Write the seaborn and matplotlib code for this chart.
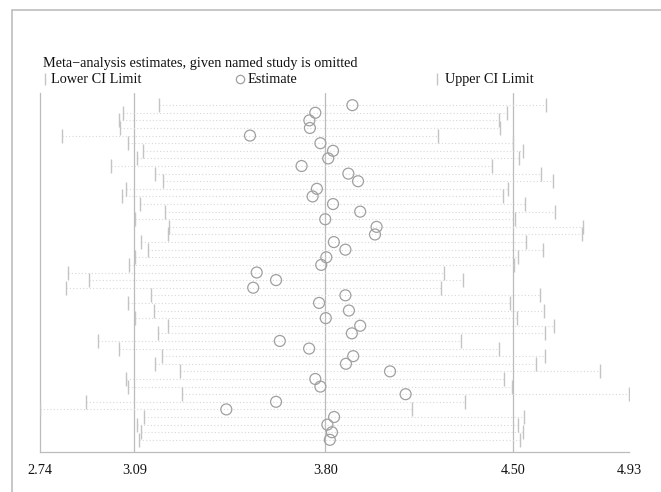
import numpy as np
import pandas as pd
import matplotlib
matplotlib.use("Agg")
import matplotlib.pyplot as plt
from matplotlib.lines import Line2D
from matplotlib.patches import Rectangle
import seaborn as sns

# Influence analysis: estimate and CI with each study omitted in turn
lower = [3.183, 3.049, 3.034, 3.035, 2.821, 3.067, 3.121, 3.101, 3.004, 3.168,
         3.196, 3.060, 3.045, 3.112, 3.205, 3.093, 3.220, 3.216, 3.114, 3.140,
         3.091, 3.069, 2.844, 2.922, 2.837, 3.153, 3.066, 3.164, 3.092, 3.214,
         3.179, 2.954, 3.034, 3.192, 3.168, 3.261, 3.059, 3.067, 3.268, 2.911,
         2.740, 3.125, 3.101, 3.116, 3.108]
estimate = [3.901, 3.763, 3.741, 3.743, 3.520, 3.782, 3.829, 3.811, 3.712, 3.886,
            3.922, 3.769, 3.753, 3.829, 3.930, 3.800, 3.991, 3.985, 3.832, 3.875,
            3.804, 3.785, 3.545, 3.617, 3.532, 3.875, 3.777, 3.888, 3.802, 3.930,
            3.899, 3.631, 3.740, 3.904, 3.877, 4.041, 3.763, 3.782, 4.099, 3.617,
            3.432, 3.833, 3.808, 3.825, 3.817]
upper = [4.621, 4.477, 4.448, 4.450, 4.218, 4.497, 4.536, 4.522, 4.420, 4.602,
         4.646, 4.480, 4.462, 4.544, 4.656, 4.506, 4.760, 4.756, 4.547, 4.611,
         4.518, 4.501, 4.243, 4.313, 4.232, 4.598, 4.489, 4.613, 4.512, 4.650,
         4.619, 4.306, 4.445, 4.616, 4.585, 4.821, 4.466, 4.495, 4.930, 4.321,
         4.122, 4.541, 4.516, 4.535, 4.525]
overall = [3.09, 3.80, 4.50]
tick_values = [2.74, 3.09, 3.80, 4.50, 4.93]
tick_labels = ["2.74", "3.09", "3.80", "4.50", "4.93"]

df = pd.DataFrame({"study": np.arange(1, len(estimate) + 1),
                   "lower": lower, "estimate": estimate, "upper": upper})

sns.set_style("white")
plt.rcParams["font.family"] = ["Liberation Serif", "DejaVu Serif"]

W, H = 661, 492
fig = plt.figure(figsize=(W / 100, H / 100), dpi=100)
ax = fig.add_axes([40.3 / W, 1 - 452 / H, (629 - 40.3) / W, (452 - 93) / H])

line_col = "#bcbcbc"
for v in overall:
    ax.axvline(v, color=line_col, lw=0.9, zorder=1)

ax.hlines(df["study"], df["lower"], df["upper"], colors="#d8d8d8",
          linestyles=(0, (1, 2)), lw=0.8, zorder=1)

sns.scatterplot(data=df, x="lower", y="study", marker="|", s=90,
                color="#c4c4c4", linewidth=1, ax=ax, zorder=3)
sns.scatterplot(data=df, x="upper", y="study", marker="|", s=90,
                color="#c4c4c4", linewidth=1, ax=ax, zorder=3)
sns.scatterplot(data=df, x="estimate", y="study", marker="o", s=62,
                facecolor="none", edgecolor="#a0a0a0", linewidth=0.9,
                ax=ax, zorder=4)

ax.set_xlim(tick_values[0], tick_values[-1])
ax.set_ylim(len(estimate) + 1.6, 1 - 1.6)
ax.set_xlabel("")
ax.set_ylabel("")
ax.set_yticks([])
ax.set_xticks(tick_values)
ax.set_xticklabels(tick_labels, fontsize=10.3, color="#111111")
ax.tick_params(axis="x", direction="in", length=5, width=0.9, color=line_col, pad=9)
for side in ["top", "right"]:
    ax.spines[side].set_visible(False)
for side in ["left", "bottom"]:
    ax.spines[side].set_color(line_col)
    ax.spines[side].set_linewidth(0.9)

# outer frame
fig.add_artist(Rectangle((12 / W, -0.1), 1.2, 1 - 10 / H + 0.1,
                         transform=fig.transFigure, fill=False,
                         edgecolor="#bdbdbd", lw=1.2))

fig.text(43 / W, 1 - 64 / H, "Meta\u2212analysis estimates, given named study is omitted",
         fontsize=10.3, color="#111111", va="center", ha="left")

ly = 1 - 79 / H
fig.add_artist(Line2D([45 / W], [ly], marker="|", markersize=9, color="#c4c4c4",
                      markeredgewidth=1, transform=fig.transFigure))
fig.text(51 / W, ly, "Lower CI Limit", fontsize=10.3, color="#111111", va="center")
fig.add_artist(Line2D([240 / W], [ly], marker="o", markersize=6, markerfacecolor="none",
                      markeredgecolor="#a0a0a0", markeredgewidth=0.9,
                      transform=fig.transFigure))
fig.text(247.5 / W, ly, "Estimate", fontsize=10.3, color="#111111", va="center")
fig.add_artist(Line2D([437 / W], [ly], marker="|", markersize=9, color="#c4c4c4",
                      markeredgewidth=1, transform=fig.transFigure))
fig.text(445 / W, ly, "Upper CI Limit", fontsize=10.3, color="#111111", va="center")

fig.savefig("out.png", dpi=100)
